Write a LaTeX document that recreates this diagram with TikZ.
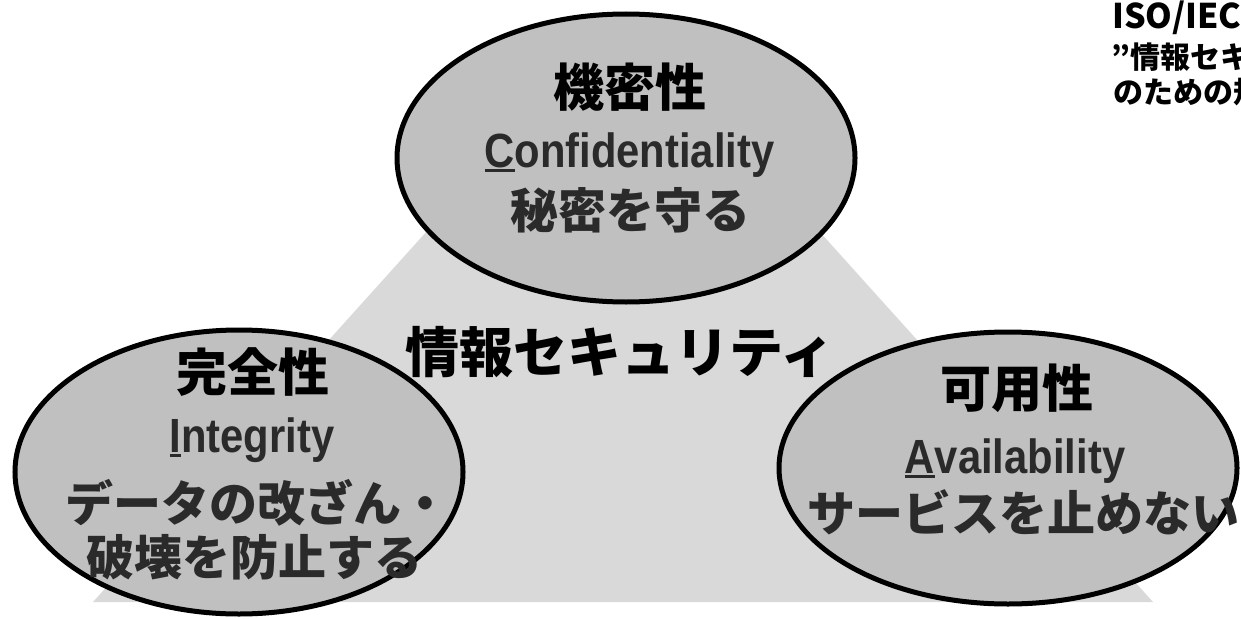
\documentclass[tikz,border=0pt]{standalone}
\usepackage{fontspec}
\setmainfont{Liberation Sans}
\newfontfamily\jp{Noto Sans CJK JP}
\newfontfamily\lat{Liberation Sans}
\usetikzlibrary{shapes.geometric}
\definecolor{bubblefill}{HTML}{C0C0C0}
\definecolor{trifill}{HTML}{D9D9D9}
\definecolor{descgray}{HTML}{2A2A2A}
\newcommand\firstul[1]{\setbox0\hbox{#1}\rlap{\rule[-4.5pt]{\wd0}{3pt}}\box0}
\tikzset{
  bubble/.style={ellipse, draw=black, line width=5pt, fill=bubblefill, inner sep=0pt},
  titletext/.style={font=\jp\bfseries\fontsize{51}{56}\selectfont, text=black, inner sep=0pt},
  latintext/.style={font=\lat\bfseries\fontsize{48}{52}\selectfont, text=descgray, inner sep=0pt, anchor=base},
  desctext/.style={font=\jp\bfseries\fontsize{48}{52}\selectfont, text=descgray, inner sep=0pt},
  mainlabel/.style={font=\jp\bfseries\fontsize{54}{58}\selectfont, text=black, inner sep=0pt},
  notetext/.style={font=\jp\bfseries\fontsize{30}{32}\selectfont, text=black, inner sep=0pt, anchor=west}
}
\begin{document}
\begin{tikzpicture}[x=1pt,y=-1pt]
\useasboundingbox (0,0) rectangle (1241,618);
% background triangle (top hidden behind top bubble)
\path[fill=trifill] (93,602) -- (581,60) -- (665,60) -- (1153,602) -- cycle;
% main label
\node[mainlabel] (sec) at (620,352) {情報セキュリティ};
% top bubble
\node[bubble, minimum width=458pt, minimum height=288pt] (conf) at (626,158) {};
\node[titletext] (confT) at (630,87.5) {機密性};
\node[latintext] (confL) at (629.5,167) {\scalebox{0.87}[1]{\firstul{C}onfidentiality}};
\node[desctext] (confD) at (630,210) {秘密を守る};
% left bubble
\node[bubble, minimum width=448pt, minimum height=284pt] (integ) at (239,472) {};
\node[titletext] (integT) at (253,372) {完全性};
\node[latintext] (integL) at (252,452) {\scalebox{0.87}[1]{\firstul{I}ntegrity}};
\node[desctext] (integD1) at (257,503) {データの改ざん・};
\node[desctext] (integD2) at (254,557) {破壊を防止する};
% right bubble
\node[bubble, minimum width=458pt, minimum height=272pt] (avail) at (1008,468) {};
\node[titletext] (availT) at (1017,388) {可用性};
\node[latintext] (availL) at (1015,473) {\scalebox{0.87}[1]{\firstul{A}vailability}};
\node[desctext] (availD) at (1023,512) {サービスを止めない};
% note at top right (cut off by the picture edge, as in the reference)
\node[notetext, font=\jp\bfseries\fontsize{34}{36}\selectfont] (note1) at (1112,18) {ISO/IEC 2};
\node[notetext] (note2) at (1111,57) {”情報セキ};
\node[notetext] (note3) at (1113,92) {のための規};
\end{tikzpicture}
\end{document}
